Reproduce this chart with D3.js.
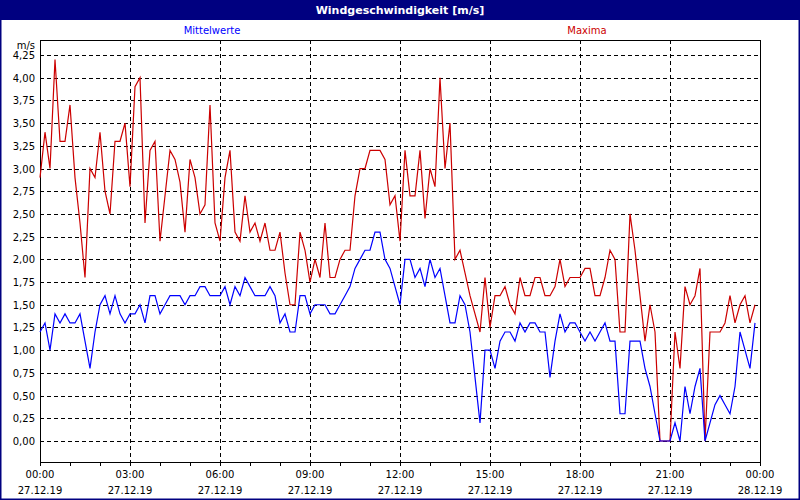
<!DOCTYPE html>
<html><head><meta charset="utf-8">
<script src="https://cdn.jsdelivr.net/npm/d3@7"></script>
<style>body{margin:0;background:#fff}svg{display:block}</style>
</head><body>
<svg id="c" width="800" height="500"></svg>
<script>
const title = "Windgeschwindigkeit [m/s]";
const seriesNames = ["Mittelwerte", "Maxima"];
const yTicks = [0,0.25,0.5,0.75,1,1.25,1.5,1.75,2,2.25,2.5,2.75,3,3.25,3.5,3.75,4,4.25];
const xTickHours = [0,3,6,9,12,15,18,21,24];
const xTickLabels = ["00:00","03:00","06:00","09:00","12:00","15:00","18:00","21:00","00:00"];
const xTickDates = ["27.12.19","27.12.19","27.12.19","27.12.19","27.12.19","27.12.19","27.12.19","27.12.19","28.12.19"];
// 10-minute samples starting at 00:00
const mittel = [1.2,1.3,1.0,1.4,1.3,1.4,1.3,1.3,1.4,1.1,0.8,1.2,1.5,1.6,1.4,1.6,1.4,1.3,1.4,1.4,1.5,1.3,1.6,1.6,1.4,1.5,1.6,1.6,1.6,1.5,1.6,1.6,1.7,1.7,1.6,1.6,1.6,
1.7,1.5,1.7,1.6,1.8,1.7,1.6,1.6,1.6,1.7,1.6,1.3,1.4,1.2,1.2,1.6,1.6,1.4,1.5,1.5,1.5,1.4,1.4,1.5,1.6,1.7,1.9,2.0,2.1,2.1,2.3,2.3,2.0,1.9,1.7,1.5,2.0,2.0,
1.8,1.9,1.7,2.0,1.8,1.9,1.6,1.3,1.3,1.6,1.5,1.2,0.7,0.2,1.0,1.0,0.8,1.1,1.2,1.2,1.1,1.3,1.2,1.3,1.3,1.2,1.2,0.7,1.1,1.4,1.2,1.3,1.3,1.2,1.1,1.2,1.1,
1.2,1.3,1.1,1.1,0.3,0.3,1.1,1.1,1.1,0.8,0.6,0.3,0,0,0,0.2,0,0.6,0.3,0.6,0.8,0,0.2,0.4,0.5,0.4,0.3,0.6,1.2,1.0,0.8,1.3];
const maxima = [2.9,3.4,3.0,4.2,3.3,3.3,3.7,2.9,2.4,1.8,3.0,2.9,3.4,2.75,2.5,3.3,3.3,3.5,2.8,3.9,4.0,2.4,3.2,3.3,2.2,2.7,3.2,3.1,2.85,2.3,3.1,2.9,2.5,2.6,3.7,2.4,2.2,
2.9,3.2,2.3,2.2,2.7,2.3,2.4,2.2,2.4,2.1,2.1,2.3,1.85,1.5,1.5,2.3,2.1,1.75,2.0,1.8,2.4,1.8,1.8,2.0,2.1,2.1,2.7,3.0,3.0,3.2,3.2,3.2,3.1,2.6,2.7,2.2,3.2,
2.7,2.7,3.2,2.45,3.0,2.8,4.0,3.0,3.5,2.0,2.1,1.85,1.6,1.4,1.2,1.8,1.25,1.6,1.6,1.7,1.5,1.4,1.8,1.6,1.6,1.8,1.8,1.6,1.6,1.7,2.0,1.7,1.8,1.8,1.8,1.9,1.9,1.6,
1.6,1.8,2.1,2.0,1.2,1.2,2.5,2.1,1.6,1.1,1.5,1.2,0,0,0,1.2,0.8,1.7,1.5,1.6,1.9,0,1.2,1.2,1.2,1.3,1.6,1.3,1.5,1.6,1.3,1.5];

const svg = d3.select("#c");
const font = "Tahoma, 'DejaVu Sans', sans-serif";
const navy = "#000080";
svg.append("rect").attr("x",0.5).attr("y",0.5).attr("width",799).attr("height",499).attr("fill","#fff").attr("stroke",navy).attr("stroke-width",2);
svg.append("rect").attr("x",0).attr("y",0).attr("width",800).attr("height",20).attr("fill",navy);
svg.append("text").attr("x",400).attr("y",14).attr("text-anchor","middle").attr("fill","#fff")
  .attr("font-family",font).attr("font-size",11).attr("font-weight","bold").text(title);

const L=40,R=760,T=40,B=462;
const x = d3.scaleLinear().domain([0,24]).range([L,R]);
const y = d3.scaleLinear().domain([0,4.25]).range([441,55]);

// grid
const g = svg.append("g");
g.selectAll(".hg").data(yTicks).join("line").attr("x1",L).attr("x2",R)
  .attr("y1",d=>Math.round(y(d))+0.5).attr("y2",d=>Math.round(y(d))+0.5)
  .attr("stroke","#000").attr("stroke-dasharray","4,3");
g.selectAll(".vg").data(xTickHours.slice(1,-1)).join("line").attr("y1",T).attr("y2",B)
  .attr("x1",d=>Math.round(x(d))+0.5).attr("x2",d=>Math.round(x(d))+0.5)
  .attr("stroke","#000").attr("stroke-dasharray","4,3");

// frame
svg.append("rect").attr("x",L+0.5).attr("y",T+0.5).attr("width",R-L).attr("height",B-T)
  .attr("fill","none").attr("stroke","#000");

// y axis labels
const ax = svg.append("g").attr("font-family",font).attr("font-size",10).attr("fill","#000");
ax.selectAll(".yl").data(yTicks).join("text").attr("x",35).attr("y",d=>y(d)+4)
  .attr("text-anchor","end").text(d=>d3.format(".2f")(d).replace(".",","));
ax.append("text").attr("x",35).attr("y",49).attr("text-anchor","end").text("m/s");

// x ticks
svg.append("g").attr("transform",`translate(0,${B})`)
  .call(d3.axisBottom(x).tickValues(d3.range(0,25,1)).tickSize(4).tickFormat(""))
  .call(s=>{s.select(".domain").remove();s.selectAll("line").attr("stroke","#000");});
ax.selectAll(".xl").data(xTickHours).join("text").attr("x",d=>x(d)).attr("y",478)
  .attr("text-anchor","middle").text((d,i)=>xTickLabels[i]);
ax.selectAll(".xd").data(xTickHours).join("text").attr("x",d=>x(d)).attr("y",494)
  .attr("text-anchor","middle").text((d,i)=>xTickDates[i]);

// legends
svg.append("text").attr("x",212).attr("y",34).attr("text-anchor","middle").attr("fill","#0000ff")
  .attr("font-family",font).attr("font-size",10).text(seriesNames[0]);
svg.append("text").attr("x",587).attr("y",34).attr("text-anchor","middle").attr("fill","#cc0000")
  .attr("font-family",font).attr("font-size",10).text(seriesNames[1]);

const line = d3.line().x((d,i)=>x(i/6)).y(d=>y(d));
svg.append("path").datum(maxima).attr("d",line).attr("fill","none").attr("stroke","#cc0000").attr("stroke-width",1.2);
svg.append("path").datum(mittel).attr("d",line).attr("fill","none").attr("stroke","#0000ff").attr("stroke-width",1.2);
</script>
</body></html>
